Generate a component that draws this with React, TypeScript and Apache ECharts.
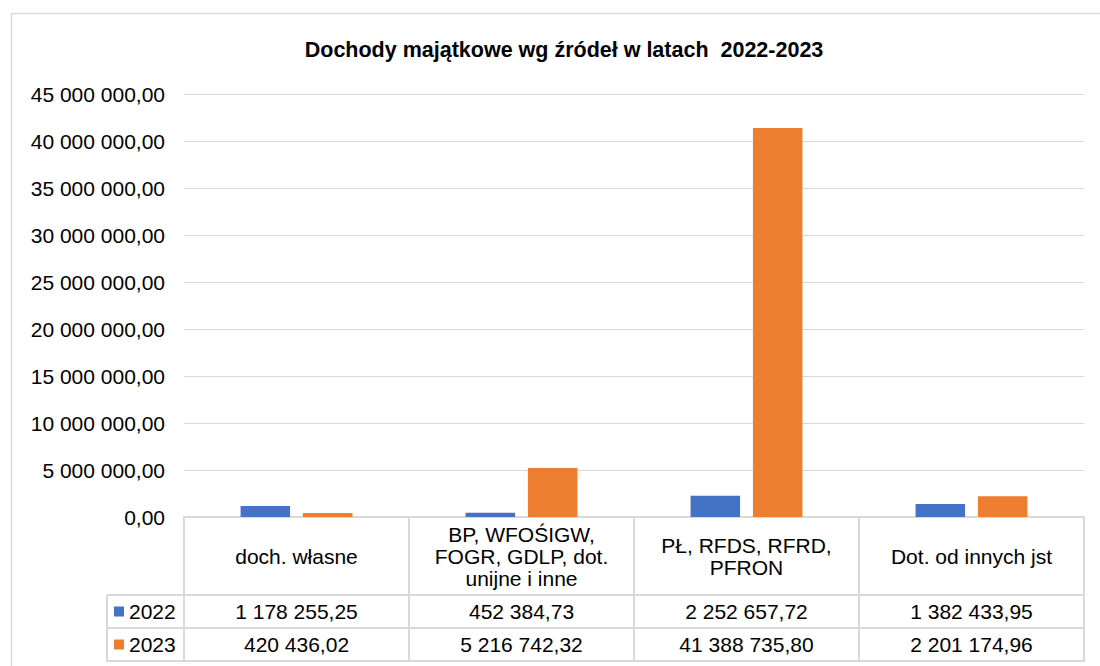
import React, { useEffect, useRef } from "react";
import * as echarts from "echarts";

const titleText = "Dochody majątkowe wg źródeł w latach  2022-2023";
const categories = [
  "doch. własne",
  "BP, WFOŚIGW,\nFOGR, GDLP, dot.\nunijne i inne",
  "PŁ, RFDS, RFRD,\nPFRON",
  "Dot. od innych jst",
];
const seriesNames = ["2022", "2023"];
const values2022 = [1178255.25, 452384.73, 2252657.72, 1382433.95];
const values2023 = [420436.02, 5216742.32, 41388735.8, 2201174.96];
const yMin = 0;
const yMax = 45000000;
const yInterval = 5000000;
const colors = ["#4472C4", "#ED7D31"];

function fmt(v: number): string {
  const [i, d] = v.toFixed(2).split(".");
  return i.replace(/\B(?=(\d{3})+(?!\d))/g, " ") + "," + d;
}

const FONT = "'Liberation Sans', Arial, sans-serif";
const GRID_LEFT = 184;
const GRID_RIGHT = 1084;
const GRID_TOP = 94;
const GRID_BOTTOM = 517;
const ROW1 = 595;
const ROW2 = 628;
const ROW3 = 661;
const LABEL_COL = 107;
const LINE = "#d9d9d9";
const FS = 21;

export default function App() {
  const ref = useRef<HTMLDivElement>(null);
  useEffect(() => {
    if (!ref.current) return;
    const chart = echarts.init(ref.current, undefined, { renderer: "svg" });
    const hideAxis = {
      axisLine: { show: false },
      axisTick: { show: false },
      splitLine: { show: false },
    };
    chart.setOption({
      animation: false,
      color: colors,
      textStyle: { fontFamily: FONT },
      title: {
        text: titleText,
        left: 564,
        textAlign: "center",
        top: 39,
        padding: 0,
        textStyle: { fontFamily: FONT, fontSize: 21.5, fontWeight: "bold", color: "#000" },
      },
      legend: {
        orient: "vertical",
        left: 114,
        top: 601,
        padding: 0,
        itemGap: 12,
        itemWidth: 10,
        itemHeight: 10,
        icon: "rect",
        data: seriesNames,
        textStyle: { fontFamily: FONT, fontSize: FS, lineHeight: 21, color: "#000" },
      },
      grid: {
        left: GRID_LEFT,
        right: 1100 - GRID_RIGHT,
        top: GRID_TOP,
        bottom: 666 - GRID_BOTTOM,
        containLabel: false,
      },
      xAxis: [
        {
          type: "category",
          data: categories,
          position: "bottom",
          axisLine: { show: true, lineStyle: { color: LINE, width: 2 } },
          axisTick: {
            show: true,
            length: ROW3 - GRID_BOTTOM,
            lineStyle: { color: LINE, width: 2 },
          },
          axisLabel: {
            interval: 0,
            margin: 39,
            verticalAlign: "middle",
            fontFamily: FONT,
            fontSize: FS,
            lineHeight: 22,
            color: "#000",
          },
        },
        {
          type: "category",
          data: values2022.map(fmt),
          position: "bottom",
          ...hideAxis,
          axisLabel: {
            interval: 0,
            margin: (ROW1 + ROW2) / 2 - GRID_BOTTOM,
            verticalAlign: "middle",
            fontFamily: FONT,
            fontSize: FS,
            color: "#000",
          },
        },
        {
          type: "category",
          data: values2023.map(fmt),
          position: "bottom",
          ...hideAxis,
          axisLabel: {
            interval: 0,
            margin: (ROW2 + ROW3) / 2 - GRID_BOTTOM,
            verticalAlign: "middle",
            fontFamily: FONT,
            fontSize: FS,
            color: "#000",
          },
        },
      ],
      yAxis: {
        type: "value",
        min: yMin,
        max: yMax,
        interval: yInterval,
        axisLine: { show: false },
        axisTick: { show: false },
        splitLine: { show: true, lineStyle: { color: LINE, width: 1 } },
        axisLabel: {
          margin: 19,
          fontFamily: FONT,
          fontSize: FS,
          color: "#000",
          formatter: (v: number) => fmt(v),
        },
      },
      series: [
        {
          name: seriesNames[0],
          type: "bar",
          data: values2022,
          barWidth: "22%",
          barGap: "26%",
          itemStyle: { color: colors[0] },
        },
        {
          name: seriesNames[1],
          type: "bar",
          data: values2023,
          barWidth: "22%",
          barGap: "26%",
          itemStyle: { color: colors[1] },
        },
      ],
      graphic: [
        {
          type: "rect",
          silent: true,
          shape: { x: 11.5, y: 13.5, width: 1200, height: 700 },
          style: { fill: "none", stroke: LINE, lineWidth: 1.5 },
        },
        ...[ROW1, ROW2, ROW3].map((y) => ({
          type: "line",
          silent: true,
          shape: { x1: LABEL_COL, y1: y, x2: GRID_RIGHT + 1, y2: y },
          style: { stroke: LINE, lineWidth: 2 },
        })),
        {
          type: "line",
          silent: true,
          shape: { x1: LABEL_COL, y1: ROW1, x2: LABEL_COL, y2: ROW3 + 1 },
          style: { stroke: LINE, lineWidth: 2 },
        },
      ],
    });
    return () => chart.dispose();
  }, []);
  return (
    <div
      ref={ref}
      style={{ position: "absolute", left: 0, top: 0, width: 1100, height: 666, background: "#fff" }}
    />
  );
}
